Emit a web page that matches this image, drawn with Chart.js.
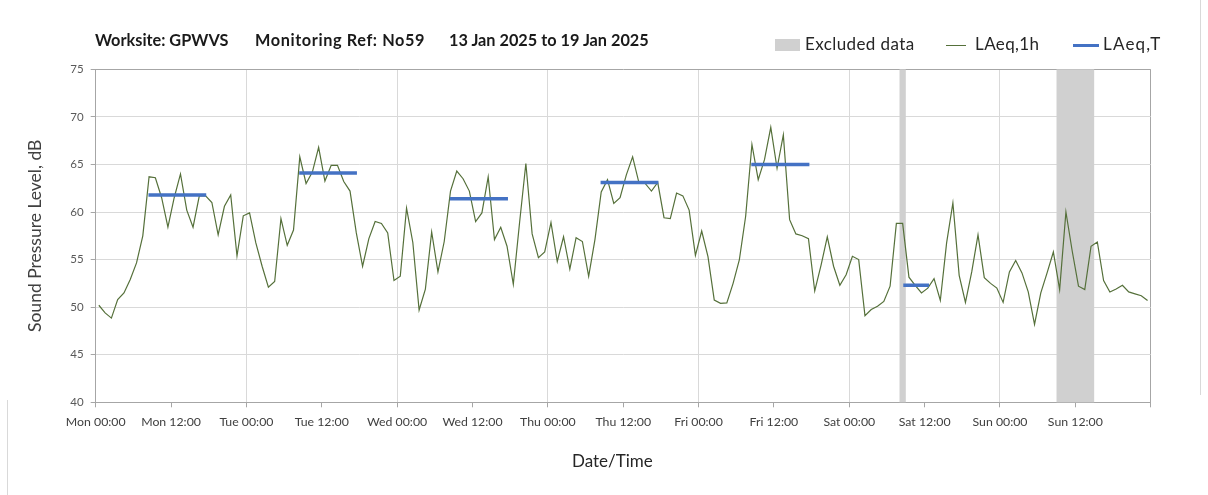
<!DOCTYPE html>
<html>
<head>
<meta charset="utf-8">
<script src="https://cdn.jsdelivr.net/npm/chart.js@4.4.1/dist/chart.umd.min.js"></script>
<style>
  html, body { margin: 0; padding: 0; background: #fff; }
  #wrap { position: relative; width: 1208px; height: 495px; overflow: hidden; background: #fff; }
  #c { position: absolute; left: 0; top: 0; }
  .txt { position: absolute; font-family: Lato, "Open Sans", sans-serif; white-space: pre; }
  .tt { top: 30px; font-size: 16.3px; font-weight: bold; color: #1a1a1a; }
  .lg { top: 33px; font-size: 17px; letter-spacing: 0.4px; color: #262626; }
  .sw { position: absolute; }
</style>
</head>
<body>
<div id="wrap">
  <canvas id="c" width="1208" height="495"></canvas>
  <div class="txt tt" style="left:95px;">Worksite: GPWVS</div>
  <div class="txt tt" style="left:255px;letter-spacing:0.6px;">Monitoring Ref: No59</div>
  <div class="txt tt" style="left:449px;">13 Jan 2025 to 19 Jan 2025</div>
  <div class="sw" style="left:775px;top:39px;width:25px;height:12px;background:#d0d0d0;"></div>
  <div class="txt lg" style="left:805px;">Excluded data</div>
  <div class="sw" style="left:946px;top:44.5px;width:20px;height:1.3px;background:#55703a;"></div>
  <div class="txt lg" style="left:975px;">LAeq,1h</div>
  <div class="sw" style="left:1073px;top:43.5px;width:26px;height:3.5px;background:#4472C4;"></div>
  <div class="txt lg" style="left:1103px;letter-spacing:1.2px;">LAeq,T</div>
  <div class="sw" style="left:1200px;top:0;width:1px;height:395px;background:#d9d9d9;"></div>
  <div class="sw" style="left:7px;top:400px;width:1px;height:95px;background:#d9d9d9;"></div>
</div>
<script>
// ---- Data ----
// Hourly LAeq,1h values, starting Mon 13 Jan 2025 00:00 (one value per hour)
const laeq1h = [
  50.2, 49.4, 48.85, 50.8, 51.5, 52.9, 54.65, 57.5, 63.7, 63.6, 61.5, 58.4,
  61.5, 64.0, 60.2, 58.4, 61.7, 61.7, 61.0, 57.6, 60.6, 61.8, 55.4, 59.6,
  59.9, 56.75, 54.3, 52.1, 52.7, 59.3, 56.5, 58.1, 65.8, 63.0, 64.2, 66.8,
  63.25, 64.9, 64.9, 63.2, 62.2, 57.8, 54.3, 57.2, 59.0, 58.8, 57.8, 52.8,
  53.25, 60.4, 56.8, 49.7, 51.9, 57.9, 53.7, 56.9, 62.2, 64.3, 63.5, 62.2,
  59.0, 59.9, 63.7, 57.1, 58.4, 56.4, 52.4, 58.9, 65.1, 57.7, 55.2, 55.8,
  58.9, 54.8, 57.4, 54.0, 57.3, 56.9, 53.25, 57.1, 62.1, 63.4, 60.9, 61.5,
  63.9, 65.8, 63.1, 63.0, 62.2, 63.1, 59.4, 59.3, 62.0, 61.7, 60.2, 55.45,
  58.0, 55.3, 50.75, 50.4, 50.45, 52.5, 55.0, 59.55, 67.1, 63.4, 65.5, 68.9,
  64.6, 68.1, 59.2, 57.7, 57.5, 57.2, 51.7, 54.4, 57.4, 54.3, 52.3, 53.4,
  55.35, 55.0, 49.1, 49.75, 50.1, 50.6, 52.2, 58.8, 58.8, 53.15, 52.3, 51.5,
  52.0, 53.0, 50.7, 56.75, 60.95, 53.35, 50.5, 53.7, 57.6, 53.1, 52.5, 52.0,
  50.5, 53.7, 54.9, 53.6, 51.6, 48.2, 51.5, 53.6, 55.8, 51.85, 60.0, 55.9,
  52.2, 51.85, 56.4, 56.85, 52.8, 51.6, 51.9, 52.3, 51.6, 51.4, 51.2, 50.7
];
// LAeq,T daytime periods (hours from Mon 00:00)
const laeqTStart = [8.4, 32.4, 56.4, 80.4, 104.4, 128.6];
const laeqTEnd   = [17.6, 41.6, 65.65, 89.6, 113.65, 132.7];
const laeqTValue = [61.8, 64.1, 61.4, 63.1, 65.0, 52.3];
// Excluded data periods (hours from Mon 00:00)
const excludedStart = [128, 153];
const excludedEnd   = [129, 159];
// X tick labels every 12 hours
const tickLabels = ['Mon 00:00','Mon 12:00','Tue 00:00','Tue 12:00','Wed 00:00','Wed 12:00',
  'Thu 00:00','Thu 12:00','Fri 00:00','Fri 12:00','Sat 00:00','Sat 12:00','Sun 00:00','Sun 12:00'];
const yTitle = 'Sound Pressure Level, dB';
const xTitle = 'Date/Time     ';

// ---- Build library data ----
const hourlyPoints = laeq1h.map((v, i) => ({ x: i + 0.5, y: v }));
const tPoints = [];
laeqTValue.forEach((v, i) => {
  if (i > 0) tPoints.push({ x: (laeqTEnd[i - 1] + laeqTStart[i]) / 2, y: null });
  tPoints.push({ x: laeqTStart[i], y: v });
  tPoints.push({ x: laeqTEnd[i], y: v });
});

const excludedPlugin = {
  id: 'excluded',
  beforeDatasetsDraw(chart) {
    const { ctx, chartArea, scales: { x } } = chart;
    ctx.save();
    ctx.fillStyle = '#d0d0d0';
    excludedStart.forEach((s, i) => {
      const x0 = x.getPixelForValue(s);
      const x1 = x.getPixelForValue(excludedEnd[i]);
      ctx.fillRect(x0, chartArea.top, x1 - x0, chartArea.bottom - chartArea.top);
    });
    ctx.restore();
  }
};

const fontFam = 'Lato, "Open Sans", sans-serif';

new Chart(document.getElementById('c'), {
  type: 'line',
  data: {
    datasets: [
      { label: 'LAeq,T', data: tPoints, borderColor: '#4472C4', borderWidth: 3.5,
        pointRadius: 0, spanGaps: false, order: 0, borderCapStyle: 'butt' },
      { label: 'LAeq,1h', data: hourlyPoints, borderColor: '#55703a', borderWidth: 1.2,
        pointRadius: 0, tension: 0, order: 1 }
    ]
  },
  options: {
    responsive: false,
    animation: false,
    events: [],
    layout: { padding: { left: 20, right: 57.3, top: 69.3, bottom: 20 } },
    plugins: { legend: { display: false }, tooltip: { enabled: false }, title: { display: false } },
    scales: {
      x: {
        type: 'linear', min: 0, max: 168,
        afterFit(s) { s.height = 72.7; s.paddingLeft = 0; s.paddingRight = 0; },
        ticks: {
          stepSize: 12, autoSkip: false, maxRotation: 0, minRotation: 0, padding: 7,
          color: '#404040', font: { family: fontFam, size: 12.3 },
          callback: (v) => tickLabels[Math.round(v / 12)] || ''
        },
        grid: {
          color: (c) => (c.tick && c.tick.value === 168) ? '#a6a6a6'
                 : (c.tick && c.tick.value % 24 === 0) ? '#d9d9d9' : 'rgba(0,0,0,0)',
          tickColor: '#a6a6a6', tickLength: 5, lineWidth: 1
        },
        border: { color: '#a6a6a6', width: 1 },
        title: { display: true, text: xTitle, color: '#262626',
                 font: { family: fontFam, size: 17 }, padding: { top: 0, bottom: 3 } }
      },
      y: {
        min: 40, max: 75,
        afterFit(s) { s.width = 75.7; s.paddingTop = 0; s.paddingBottom = 0; },
        ticks: { stepSize: 5, padding: 7, color: '#595959', font: { family: fontFam, size: 11.5 } },
        grid: {
          color: (c) => (c.tick && c.tick.value === 75) ? '#a6a6a6' : '#d9d9d9',
          tickColor: '#a6a6a6', tickLength: 5, lineWidth: 1
        },
        border: { color: '#a6a6a6', width: 1 },
        title: { display: true, text: yTitle, color: '#404040',
                 font: { family: fontFam, size: 17.5 }, padding: { top: 5, bottom: 0 } }
      }
    }
  },
  plugins: [excludedPlugin]
});
</script>
</body>
</html>
